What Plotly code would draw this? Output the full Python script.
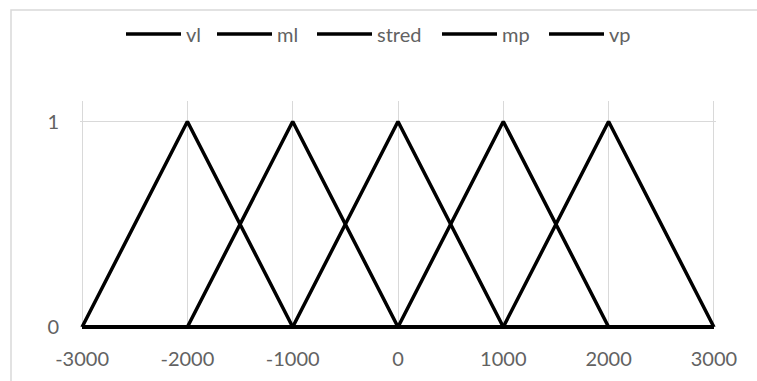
import plotly.graph_objects as go

x_values = [-3000, -2000, -1000, 0, 1000, 2000, 3000]
series_names = ["vl", "ml", "stred", "mp", "vp"]
vl = [0, 1, 0, 0, 0, 0, 0]
ml = [0, 0, 1, 0, 0, 0, 0]
stred = [0, 0, 0, 1, 0, 0, 0]
mp = [0, 0, 0, 0, 1, 0, 0]
vp = [0, 0, 0, 0, 0, 1, 0]
series_values = [vl, ml, stred, mp, vp]
x_ticks = [-3000, -2000, -1000, 0, 1000, 2000, 3000]
y_ticks = [0, 1]

FONT = "Lato"
GRAY = "#626262"
GRID = "#d9d9d9"

W, H = 757, 381
l, r, t, b = 80, 41, 101, 52
pw = W - l - r
ph = H - t - b

def px_x(px):
    return (px - l) / pw

def px_y(py):
    return 1 - (py - t) / ph

legend_px = [127, 218, 318, 443, 550]
legend_ids = ["legend", "legend2", "legend3", "legend4", "legend5"]

fig = go.Figure()
for name, vals, lid in zip(series_names, series_values, legend_ids):
    fig.add_trace(go.Scatter(
        x=x_values, y=vals, name=name, mode="lines", legend=lid,
        line=dict(color="black", width=3.5),
    ))

legend_layouts = {}
for lid, xp in zip(legend_ids, legend_px):
    legend_layouts[lid] = dict(
        orientation="h", x=px_x(xp - 6), xanchor="left",
        y=px_y(34), yanchor="middle",
        font=dict(family=FONT, size=20, color=GRAY),
        itemwidth=55, bgcolor="rgba(0,0,0,0)",
    )

fig.update_layout(
    width=W, height=H,
    margin=dict(l=l, r=r, t=t, b=b),
    paper_bgcolor="white", plot_bgcolor="white",
    font=dict(family=FONT, size=20, color=GRAY),
    showlegend=True,
    xaxis=dict(
        range=[-3020, 3020], tickvals=x_ticks,
        ticktext=[str(v) for v in x_ticks],
        showgrid=True, gridcolor=GRID, gridwidth=1.3,
        zeroline=False, showline=False, ticks="",
        ticklabelstandoff=16,
        tickfont=dict(family=FONT, size=20, color=GRAY),
    ),
    yaxis=dict(
        range=[-0.01, 1.1], tickvals=y_ticks,
        ticktext=[str(v) for v in y_ticks],
        showgrid=True, gridcolor=GRID, gridwidth=1.3,
        zeroline=False, showline=False, ticks="",
        ticklabelstandoff=20,
        tickfont=dict(family=FONT, size=20, color=GRAY),
    ),
    shapes=[dict(
        type="rect", xref="paper", yref="paper",
        x0=px_x(11), x1=px_x(900), y0=px_y(500), y1=px_y(10),
        line=dict(color=GRID, width=1.5), fillcolor="rgba(0,0,0,0)",
        layer="below",
    )],
    **legend_layouts,
)

fig.write_html("out.html")
